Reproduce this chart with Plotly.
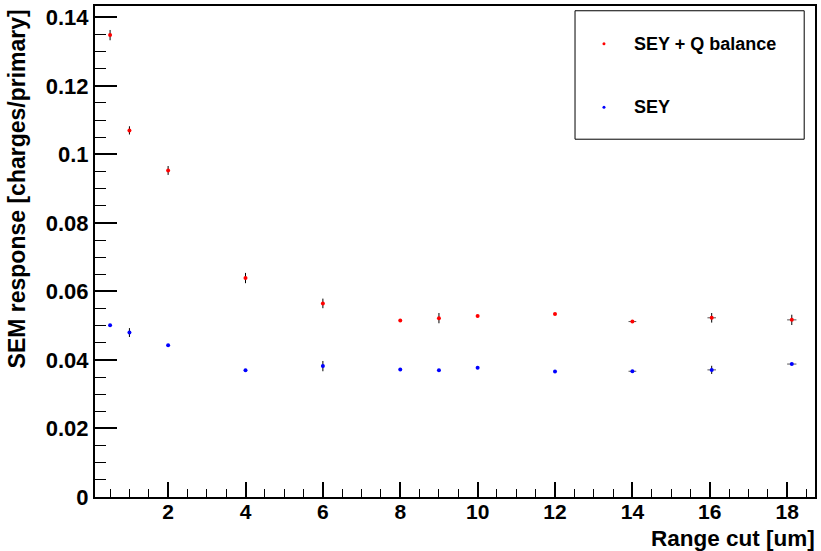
import plotly.graph_objects as go

# Range cut values [um]
range_cut = [0.5, 1, 2, 4, 6, 8, 9, 10, 12, 14, 16.05, 18.12]
range_cut_err = [0, 0, 0, 0, 0, 0, 0, 0, 0, 0.10, 0.11, 0.12]

# SEM response [charges/primary]
sey_qbal = [0.1348, 0.1070, 0.0953, 0.0639, 0.0565, 0.0515, 0.0522, 0.0528,
            0.0534, 0.0512, 0.0523, 0.0517]
sey_qbal_err = [0.0015, 0.0012, 0.0013, 0.0015, 0.0014, 0.0003, 0.0015, 0.0003,
                0.0003, 0.0003, 0.0014, 0.0015]

sey = [0.0501, 0.0480, 0.0443, 0.0370, 0.0382, 0.0372, 0.0370, 0.0377,
       0.0366, 0.0367, 0.0371, 0.0388]
sey_err = [0.0003, 0.0013, 0.0003, 0.0003, 0.0015, 0.0003, 0.0003, 0.0003,
           0.0003, 0.0003, 0.0012, 0.0003]

series_names = ["SEY + Q balance", "SEY"]
series_colors = ["#ff0000", "#0000ff"]

FONT = "Liberation Sans, Arial, Helvetica, sans-serif"

fig = go.Figure()

for name, color, yv, ye in [(series_names[0], series_colors[0], sey_qbal, sey_qbal_err),
                            (series_names[1], series_colors[1], sey, sey_err)]:
    fig.add_trace(go.Scatter(
        x=range_cut, y=yv, mode="markers", name=name, showlegend=False,
        marker=dict(color=color, size=4, line=dict(width=0)),
        error_y=dict(type="data", array=ye, visible=True, color="black",
                     thickness=1, width=0),
        error_x=dict(type="data", array=range_cut_err, visible=True,
                     color="#555555", thickness=1, width=0),
    ))

# legend swatches drawn on an overlay axis spanning the plot area
legend_pos_x = [0.7069, 0.7069]
legend_pos_y = [0.9233, 0.7936]
fig.add_trace(go.Scatter(
    x=legend_pos_x, y=legend_pos_y, xaxis="x2", yaxis="y2", mode="markers",
    showlegend=False, hoverinfo="skip",
    marker=dict(color=series_colors, size=3, line=dict(width=0)),
))

fig.add_shape(type="rect", xref="paper", yref="paper",
              x0=0.6667, x1=0.985, y0=0.7287, y1=0.9903,
              line=dict(color="black", width=1), fillcolor="white", layer="below")

for name, ly in zip(series_names, legend_pos_y):
    fig.add_annotation(x=0.7457, y=ly, xref="paper", yref="paper",
                       text=name, showarrow=False, xanchor="left", yanchor="middle",
                       font=dict(family=FONT, size=18, color="black", weight="bold"))

# axis titles, right-aligned as in ROOT style
fig.add_annotation(x=1.003, y=-0.085, xref="paper", yref="paper",
                   text="Range cut [um]", showarrow=False,
                   xanchor="right", yanchor="middle",
                   font=dict(family=FONT, size=22.5, color="black", weight="bold"))
fig.add_annotation(x=-0.107, y=0.998, xref="paper", yref="paper",
                   text="SEM response [charges/primary]", showarrow=False,
                   textangle=-90, xanchor="center", yanchor="top",
                   font=dict(family=FONT, size=23, color="black", weight="bold"))

fig.update_layout(
    width=821, height=551,
    margin=dict(l=95, r=5, t=4, b=54, pad=0),
    paper_bgcolor="white", plot_bgcolor="white",
    font=dict(family=FONT, color="black", weight="bold"),
    xaxis=dict(
        range=[0.11, 18.72], tick0=0, dtick=2,
        ticks="inside", ticklen=15, tickwidth=1.5, tickcolor="black",
        minor=dict(ticks="inside", ticklen=8, dtick=0.5, tickwidth=1.2,
                   tickcolor="black", showgrid=False),
        showgrid=False, zeroline=False,
        showline=True, linecolor="black", linewidth=2, mirror=True,
        ticklabelstandoff=-5,
        tickfont=dict(family=FONT, size=21, color="black", weight="bold"),
    ),
    yaxis=dict(
        range=[0, 0.1433], tick0=0, dtick=0.02,
        ticks="inside", ticklen=22, tickwidth=1.5, tickcolor="black",
        minor=dict(ticks="inside", ticklen=11, dtick=0.005, tickwidth=1.2,
                   tickcolor="black", showgrid=False),
        showgrid=False, zeroline=False,
        showline=True, linecolor="black", linewidth=2, mirror=True,
        tickfont=dict(family=FONT, size=22, color="black", weight="bold"),
    ),
    xaxis2=dict(overlaying="x", range=[0, 1], visible=False, fixedrange=True),
    yaxis2=dict(overlaying="y", range=[0, 1], visible=False, fixedrange=True),
    showlegend=False,
)

fig.write_html("out.html")
